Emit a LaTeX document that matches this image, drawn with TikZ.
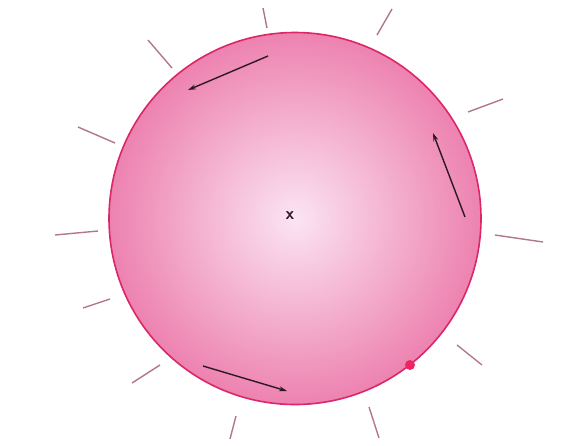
\documentclass[tikz,border=0pt]{standalone}
\usepackage{tikz}
\usetikzlibrary{arrows.meta,positioning}
\usepackage{xcolor}
\definecolor{rim}{RGB}{220,38,104}
\definecolor{ballout}{RGB}{237,130,176}
\definecolor{ballin}{RGB}{251,228,243}
\definecolor{ray}{RGB}{178,118,140}
\definecolor{vel}{RGB}{45,25,38}
\definecolor{spot}{RGB}{240,36,98}

\begin{document}
\begin{tikzpicture}[x=1pt, y=-1pt, >={Stealth[length=8pt,width=5pt]}, font=\footnotesize]
    \useasboundingbox (0,0) rectangle (565,445);

    % Ball
    \shade[draw=rim, line width=1.6pt, inner color=ballin, outer color=ballout] (295,218.5) circle (186pt);
    \node[font=\LARGE\sffamily\bfseries, text=vel, inner sep=1pt] (ctr) at (290,216) {x};
    \node[circle, fill=spot, inner sep=0pt, minimum size=10pt] (dot) at (410,365) {};

    % Rays
    \draw[ray, line width=1.4pt] (78,127) -- (115,143);
    \draw[ray, line width=1.4pt] (55,235) -- (98,231);
    \draw[ray, line width=1.4pt] (83,308) -- (110,299);
    \draw[ray, line width=1.4pt] (132,383) -- (160,365);
    \draw[ray, line width=1.4pt] (230,439) -- (236,416);
    \draw[ray, line width=1.4pt] (369,407) -- (379,438);
    \draw[ray, line width=1.4pt] (457,345) -- (482,365);
    \draw[ray, line width=1.4pt] (495,235) -- (543,242);
    \draw[ray, line width=1.4pt] (468,112) -- (503,99);
    \draw[ray, line width=1.4pt] (377,35) -- (392,9);
    \draw[ray, line width=1.4pt] (263,8) -- (267,28);
    \draw[ray, line width=1.4pt] (148,40) -- (172,68);

    % Velocity arrows
    \coordinate (t1) at (268,56);
    \coordinate (t2) at (188,90);
    \coordinate (r1) at (465,217);
    \coordinate (r2) at (433,133);
    \coordinate (b1) at (203,366);
    \coordinate (b2) at (287,391);
    \draw[->, vel, line width=1.4pt] (t1) -- (t2);
    \draw[->, vel, line width=1.4pt] (r1) -- (r2);
    \draw[->, vel, line width=1.4pt] (b1) -- (b2);
\end{tikzpicture}
\end{document}
